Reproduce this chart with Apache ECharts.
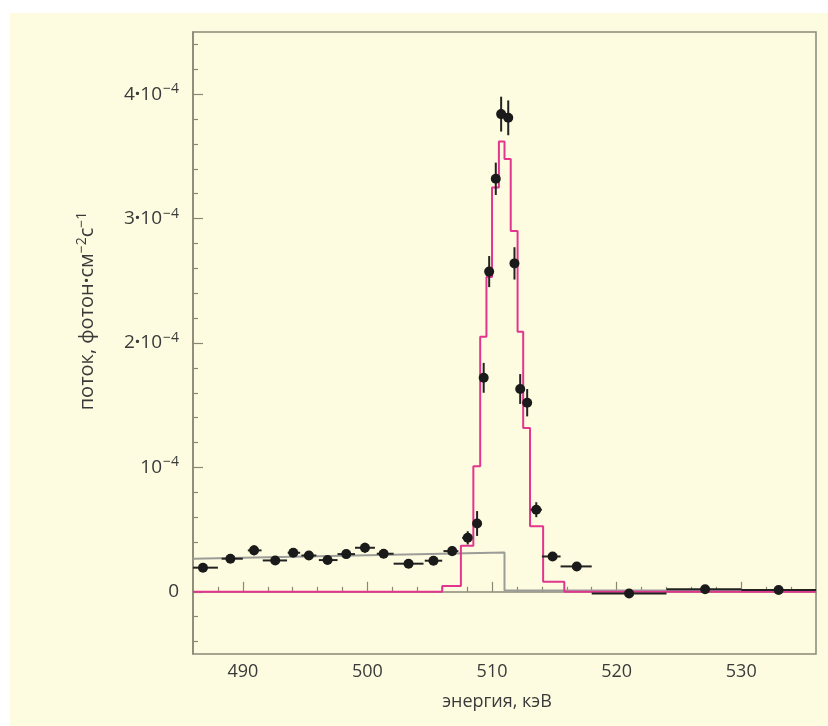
<!DOCTYPE html>
<html><head><meta charset="utf-8">
<script src="https://cdn.jsdelivr.net/npm/echarts@6/dist/echarts.min.js"></script>
<style>html,body{margin:0;padding:0;background:#fff}#c{width:828px;height:726px}</style>
</head><body><div id="c"></div>
<script>
// Energy in keV; flux in units of 1e-4 photon cm^-2 s^-1
const energy  = [486.8, 489.0, 490.9, 492.6, 494.05, 495.3, 496.8, 498.3, 499.8, 501.3, 503.3, 505.3, 506.8, 508.05, 508.8, 509.33, 509.77, 510.3, 510.73, 511.3, 511.8, 512.26, 512.82, 513.55, 514.86, 516.8, 521.0, 527.1, 533.0];
const flux    = [0.194, 0.266, 0.333, 0.252, 0.314, 0.292, 0.255, 0.303, 0.354, 0.306, 0.226, 0.25, 0.327, 0.434, 0.549, 1.72, 2.574, 3.32, 3.84, 3.81, 2.64, 1.63, 1.52, 0.66, 0.284, 0.204, -0.014, 0.02, 0.014];
const fluxErr = [0.03, 0.03, 0.04, 0.03, 0.035, 0.035, 0.035, 0.035, 0.04, 0.035, 0.03, 0.035, 0.04, 0.053, 0.1, 0.12, 0.125, 0.13, 0.14, 0.14, 0.13, 0.12, 0.11, 0.06, 0.035, 0.02, 0.01, 0.01, 0.01];
const binLo   = [486.0, 488.3, 490.4, 491.6, 493.6, 494.7, 496.1, 497.6, 499.0, 500.75, 502.1, 504.6, 506.1, 507.6, 508.55, 509.1, 509.55, 510.05, 510.5, 511.05, 511.55, 512.0, 512.55, 513.1, 514.0, 515.5, 518.0, 524.0, 530.0];
const binHi   = [488.0, 490.0, 491.5, 493.55, 494.6, 495.9, 497.6, 499.0, 500.6, 502.1, 504.5, 506.0, 507.3, 508.4, 509.05, 509.55, 510.0, 510.5, 510.95, 511.5, 512.05, 512.5, 513.05, 514.0, 515.5, 518.0, 524.0, 530.0, 536.0];

// model (pink histogram): bin edges and values
const modelEdges  = [486, 506.0, 507.5, 508.5, 509.05, 509.55, 510.0, 510.55, 511.0, 511.5, 512.05, 512.5, 513.05, 514.1, 515.8, 536];
const modelValues = [0, 0.047, 0.37, 1.01, 2.05, 2.53, 3.25, 3.62, 3.48, 2.9, 2.09, 1.316, 0.527, 0.08, 0];

// background model (grey)
const bgEnergy = [486, 511.0, 511.0, 536];
const bgFlux   = [0.265, 0.315, 0.01, 0.01];

// axis ticks
const xMajor = [490, 500, 510, 520, 530];
const xMinor = [488, 492, 494, 496, 498, 502, 504, 506, 508, 512, 514, 516, 518, 522, 524, 526, 528, 532, 534];
const yMajor = [0, 1, 2, 3, 4];
const yMinor = [-0.4, -0.2, 0.2, 0.4, 0.6, 0.8, 1.2, 1.4, 1.6, 1.8, 2.2, 2.4, 2.6, 2.8, 3.2, 3.4, 3.6, 3.8, 4.2, 4.4];
const yTickLabels = ['0', '10{s|−4}', '2{d|·}10{s|−4}', '3{d|·}10{s|−4}', '4{d|·}10{s|−4}'];
const xTitle = 'энергия, кэВ';
const yTitle = 'поток, фотон{d|·}см{s|−2}с{s|−1}';

const FONT = 'Open Sans';
const TXT = '#3a3a3a';
const AX = '#8a8775';
const PINK = '#e2358e';

const modelLine = [];
for (let i = 0; i < modelValues.length; i++) {
  modelLine.push([modelEdges[i], modelValues[i]]);
  modelLine.push([modelEdges[i + 1], modelValues[i]]);
}
const bgLine = bgEnergy.map((e, i) => [e, bgFlux[i]]);
const pts = energy.map((e, i) => [e, flux[i]]);
const errData = energy.map((e, i) => [e, flux[i], fluxErr[i], binLo[i], binHi[i]]);

const chart = echarts.init(document.getElementById('c'), null, {renderer: 'canvas'});
chart.setOption({
  animation: false,
  backgroundColor: '#ffffff',
  graphic: [
    {type: 'rect', z: -10, silent: true, shape: {x: 10, y: 13, width: 818, height: 713}, style: {fill: '#fefce0'}},
    {type: 'text', x: 87, y: 311, rotation: Math.PI / 2, style: {
      text: yTitle, font: '20px "' + FONT + '"', fill: TXT, align: 'center', verticalAlign: 'middle',
      rich: {s: {fontSize: 14, fontFamily: FONT, fill: TXT, padding: [0, 0, 10, 0]},
             d: {fontSize: 20, fontFamily: FONT, fontWeight: 'bold', fill: TXT}}
    }},
    {type: 'text', x: 497, y: 702, style: {
      text: xTitle, font: '18px "' + FONT + '"', fill: TXT, align: 'center', verticalAlign: 'middle'
    }}
  ],
  grid: {left: 193, right: 12, top: 32, bottom: 72, show: true, borderColor: AX, borderWidth: 1.5, backgroundColor: 'transparent'},
  xAxis: [
    {type: 'value', min: 486, max: 536, position: 'bottom',
      axisLine: {show: true, lineStyle: {color: AX, width: 1.5}},
      axisTick: {show: true, inside: true, length: 10, customValues: xMajor, lineStyle: {color: AX, width: 1.2}},
      axisLabel: {show: true, customValues: xMajor, margin: 9, color: TXT, fontSize: 18, fontFamily: FONT},
      splitLine: {show: false}},
    {type: 'value', min: 486, max: 536, position: 'bottom',
      axisLine: {show: false},
      axisTick: {show: true, inside: true, length: 5, customValues: xMinor, lineStyle: {color: AX, width: 1.2}},
      axisLabel: {show: false}, splitLine: {show: false}}
  ],
  yAxis: [
    {type: 'value', min: -0.5, max: 4.5, position: 'left',
      axisLine: {show: true, lineStyle: {color: AX, width: 1.5}},
      axisTick: {show: true, inside: true, length: 10, customValues: yMajor, lineStyle: {color: AX, width: 1.2}},
      axisLabel: {show: true, customValues: yMajor, margin: 14, color: TXT, fontSize: 19, fontFamily: FONT,
        formatter: (v) => yTickLabels[yMajor.indexOf(Math.round(v))],
        rich: {s: {fontSize: 14, fontFamily: FONT, color: TXT, padding: [0, 0, 10, 1]},
               d: {fontSize: 19, fontFamily: FONT, fontWeight: 'bold', color: TXT}}},
      splitLine: {show: false}},
    {type: 'value', min: -0.5, max: 4.5, position: 'left',
      axisLine: {show: false},
      axisTick: {show: true, inside: true, length: 5, customValues: yMinor, lineStyle: {color: AX, width: 1.2}},
      axisLabel: {show: false}, splitLine: {show: false}}
  ],
  series: [
    {type: 'line', name: 'bg', data: bgLine, symbol: 'none', z: 2,
      lineStyle: {color: '#9c9c98', width: 2}},
    {type: 'line', name: 'model', data: modelLine, symbol: 'none', z: 3,
      lineStyle: {color: PINK, width: 2}},
    {type: 'custom', name: 'err', data: errData, z: 4,
      renderItem: (params, api) => {
        const x = api.value(0), y = api.value(1), e = api.value(2), lo = api.value(3), hi = api.value(4);
        const top = api.coord([x, y + e]), bot = api.coord([x, y - e]);
        const l = api.coord([lo, y]), r = api.coord([hi, y]);
        const st = {stroke: '#222222', lineWidth: 2};
        return {type: 'group', children: [
          {type: 'line', shape: {x1: top[0], y1: top[1], x2: bot[0], y2: bot[1]}, style: st},
          {type: 'line', shape: {x1: l[0], y1: l[1], x2: r[0], y2: r[1]}, style: st}
        ]};
      }},
    {type: 'scatter', name: 'data', data: pts, symbol: 'circle', symbolSize: 10, z: 5,
      itemStyle: {color: '#1a1a1a', opacity: 1}}
  ]
});
</script></body></html>
